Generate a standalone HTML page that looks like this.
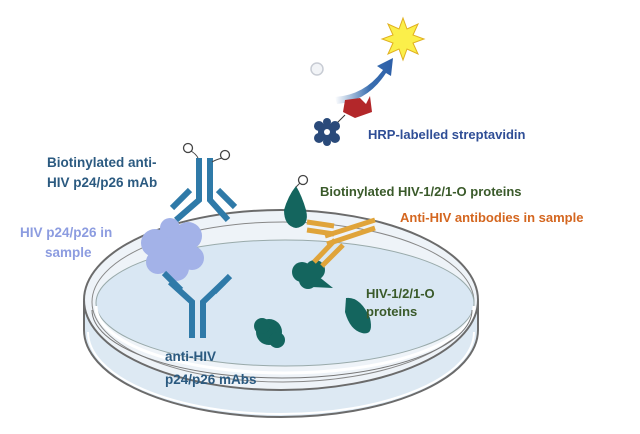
<!DOCTYPE html>
<html><head><meta charset="utf-8"><style>
body{margin:0;background:#fff;}
svg{display:block;font-family:"Liberation Sans",sans-serif;font-weight:bold;}
</style></head><body>
<svg width="640" height="434" viewBox="0 0 640 434" xmlns="http://www.w3.org/2000/svg">
<defs>
<linearGradient id="arr" x1="0" y1="0" x2="1" y2="0">
<stop offset="0" stop-color="#3a6fb0" stop-opacity="0"/><stop offset="0.6" stop-color="#3a6fb0"/><stop offset="1" stop-color="#2d5fa8"/>
</linearGradient>
</defs>
<!-- dish -->
<path d="M84 302 L84 330 A197 87 0 0 0 478 330 L478 302 Z" fill="#dde9f3" stroke="#6b6b6b" stroke-width="2"/>
<path d="M88 332 A193 82 0 0 0 474 332" fill="none" stroke="#fff" stroke-width="2"/>
<ellipse cx="281" cy="300" rx="197" ry="90" fill="#eef3f8" stroke="#6b6b6b" stroke-width="2"/>
<ellipse cx="283" cy="302" rx="191" ry="80" fill="none" stroke="#888" stroke-width="1"/>
<ellipse cx="285" cy="303" rx="189" ry="63" fill="#d9e7f3" stroke="#9aa" stroke-width="1"/>
<path d="M96 306 A189 67 0 0 0 474 306" fill="none" stroke="#fff" stroke-width="3"/>
<path d="M92 310 A190 68 0 0 0 472 310" fill="none" stroke="#777" stroke-width="1"/>

<!-- top sun -->
<polygon points="403,18 407,29 418,24 413,35 424,39 413,43 418,54 407,49 403,60 399,49 388,54 393,43 382,39 393,35 388,24 399,29" fill="#fbef4a" stroke="#e0b020" stroke-width="1"/>
<circle cx="317" cy="69" r="6" fill="#f2f4f7" stroke="#c8ccd4" stroke-width="1.5"/>
<path d="M335 97 Q365 95 383 70 L377 66 L393 58 L391 76 L386 73 Q368 101 337 104 Z" fill="url(#arr)"/>
<path d="M345 100 L360 98 L366 104 L370 96 L372 112 L355 118 L343 112 Z" fill="#b3272a"/>
<path d="M345 115 Q340 120 336 124" stroke="#333" fill="none"/>
<g transform="translate(327,132)" fill="#2a4a7a">
<circle r="9"/><circle cx="-8" cy="-6" r="5"/><circle cx="8" cy="-6" r="5"/><circle cx="-8" cy="6" r="5"/><circle cx="8" cy="6" r="5"/><circle cx="0" cy="-10" r="4"/><circle cx="0" cy="10" r="4"/><circle r="3" fill="#fff"/>
</g>

<!-- biotinylated antibody (top, inverted) -->
<g stroke="#2f7aa8" stroke-width="6" fill="none" stroke-linecap="butt">
<path d="M199 158 L199 200 L176 220"/><path d="M210 158 L210 200 L228 220"/>
<path d="M190 190 L172 208"/><path d="M218 190 L235 207"/>
</g>
<circle cx="188" cy="148" r="4.5" fill="#fff" stroke="#444" stroke-width="1.3"/>
<path d="M191 151 Q196 154 198 158" stroke="#444" fill="none"/>
<circle cx="225" cy="155" r="4.5" fill="#fff" stroke="#444" stroke-width="1.3"/>
<path d="M222 158 Q215 160 212 162" stroke="#444" fill="none"/>

<!-- antigen -->
<g fill="#a3b2e8">
<circle cx="172" cy="248" r="22"/><circle cx="155" cy="243" r="14"/><circle cx="188" cy="236" r="14"/><circle cx="176" cy="268" r="13"/><circle cx="192" cy="258" r="12"/><circle cx="158" cy="262" r="12"/><circle cx="170" cy="228" r="10"/>
</g>

<!-- bottom antibody -->
<g stroke="#2f7aa8" stroke-width="6" fill="none">
<path d="M192 338 L192 302 L170 282"/><path d="M203 338 L203 302 L224 282"/>
<path d="M181 290 L164 273"/><path d="M214 292 L230 276"/>
</g>

<!-- green proteins -->
<g fill="#14655e">
<path d="M296 186 Q288 196 284 210 Q284 226 296 228 Q310 226 306 210 Q302 196 296 186Z"/>
<circle cx="302" cy="272" r="10"/><circle cx="315" cy="270" r="10"/><circle cx="308" cy="280" r="9"/><path d="M318 276 L333 288 L312 287Z"/>
<circle cx="269" cy="332" r="13"/><circle cx="262" cy="326" r="8"/><circle cx="277" cy="340" r="8"/>
<path d="M346 298 Q360 296 370 318 Q374 336 362 333 Q350 330 345 312 Z"/>
</g>
<circle cx="303" cy="180" r="4.5" fill="#fff" stroke="#444" stroke-width="1.3"/>
<path d="M300 183 L296 187" stroke="#444"/>

<!-- orange antibody -->
<g stroke="#e0a43a" stroke-width="5" fill="none">
<path d="M307 222 L334 226"/><path d="M307 230 L334 234"/>
<path d="M325 236 L375 220"/><path d="M327 244 L375 228"/>
<path d="M335 240 L314 262"/><path d="M343 245 L322 266"/>
</g>

<!-- text -->
<g font-size="13.5" fill="#2b5a80">
<text x="47" y="167">Biotinylated anti-</text>
<text x="47" y="187">HIV p24/p26 mAb</text>
<text x="165" y="361">anti-HIV</text>
<text x="165" y="384">p24/p26 mAbs</text>
</g>
<g font-size="13.5" fill="#8c9ce0">
<text x="20" y="237">HIV p24/p26 in</text>
<text x="45" y="257">sample</text>
</g>
<text x="368" y="139" font-size="13" fill="#2f4e96">HRP-labelled streptavidin</text>
<text x="320" y="196" font-size="13" fill="#3a5a2a">Biotinylated HIV-1/2/1-O proteins</text>
<text x="400" y="222" font-size="13" fill="#d4661f">Anti-HIV antibodies in sample</text>
<text x="366" y="298" font-size="13" fill="#3a5a2a">HIV-1/2/1-O</text>
<text x="366" y="316" font-size="13" fill="#3a5a2a">proteins</text>
</svg>
</body></html>
